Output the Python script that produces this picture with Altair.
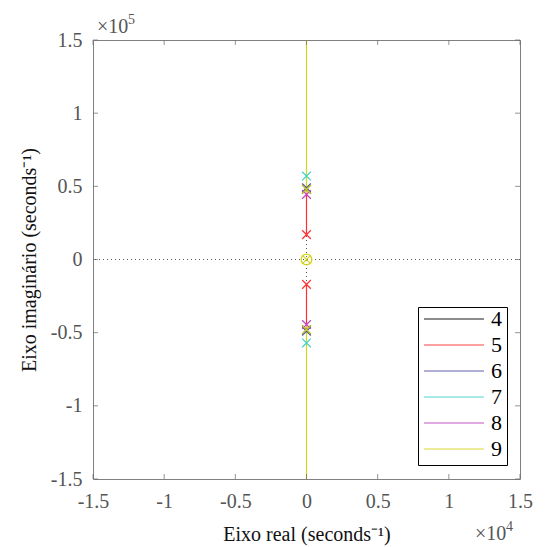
import altair as alt
import pandas as pd

# ---- data (real axis in units of 1e4, imaginary axis in units of 1e5) ----
series = ["4", "5", "6", "7", "8", "9"]
colors = ["#000000", "#ff3030", "#5050a8", "#40d0d0", "#c040c0", "#d4d41e"]

# visible root-locus branches along the imaginary axis (real part 0)
branch_series = ["5", "5", "9", "9"]
branch_real = [0, 0, 0, 0]
branch_start = [0.17, -0.17, 0.445, -0.445]
branch_end = [0.48, -0.48, 1.5, -1.5]

# poles (x markers)
pole_series = ["4", "4", "5", "5", "6", "6", "7", "7", "8", "8", "9", "9", "9"]
pole_real = [0, 0, 0, 0, 0, 0, 0, 0, 0, 0, 0, 0, 0]
pole_imag = [0.48, -0.48, 0.17, -0.17, 0.49, -0.49, 0.57, -0.57, 0.445, -0.445, 0.48, -0.48, 0.0]

# zeros (o markers)
zero_series = ["9"]
zero_real = [0]
zero_imag = [0.0]

ticks = [-1.5, -1, -0.5, 0, 0.5, 1, 1.5]

branches = pd.DataFrame({"s": branch_series, "x": branch_real, "y": branch_start, "y2": branch_end})
poles = pd.DataFrame({"s": pole_series, "x": pole_real, "y": pole_imag})
zeros = pd.DataFrame({"s": zero_series, "x": zero_real, "y": zero_imag})
tickdf = pd.DataFrame({"t": ticks})
origin = pd.DataFrame({"v": [0]})

W, H = 427, 439
FONT = "Liberation Serif"
LBL = "datum.value < 0 ? '-' + format(-datum.value, '~g') : format(datum.value, '~g')"
GRAY = "#555555"

xs = alt.Scale(domain=[-1.5, 1.5], nice=False, zero=False)
ys = alt.Scale(domain=[-1.5, 1.5], nice=False, zero=False)
cs = alt.Scale(domain=series, range=colors)

xaxis = alt.Axis(values=ticks, title="Eixo real (seconds⁻¹)", grid=False, domain=False, ticks=False,
                 labelExpr=LBL,
                 labelFont=FONT, labelFontSize=20, labelColor=GRAY, labelPadding=12,
                 titleFont=FONT, titleFontSize=20, titleFontWeight="normal", titleColor="#111111",
                 titlePadding=13, labelFlush=False)
yaxis = alt.Axis(values=ticks, title="Eixo imaginário (seconds⁻¹)", grid=False, domain=False, ticks=False,
                 labelExpr=LBL,
                 labelFont=FONT, labelFontSize=20, labelColor=GRAY, labelPadding=11,
                 titleFont=FONT, titleFontSize=20, titleFontWeight="normal", titleColor="#111111",
                 titlePadding=11, labelFlush=False)

# dotted zero lines
hzero = alt.Chart(origin).mark_rule(color="#555555", strokeDash=[1, 3], strokeWidth=1).encode(
    y=alt.Y("v:Q", scale=ys, axis=yaxis))
vzero = alt.Chart(origin).mark_rule(color="#555555", strokeDash=[1, 3], strokeWidth=1).encode(
    x=alt.X("v:Q", scale=xs, axis=xaxis))

lines = alt.Chart(branches).mark_rule(strokeWidth=1.2).encode(
    x=alt.X("x:Q", scale=xs, axis=xaxis),
    y=alt.Y("y:Q", scale=ys, axis=yaxis),
    y2="y2:Q",
    color=alt.Color("s:N", scale=cs, sort=series, legend=alt.Legend(
        title=None, orient="none", legendX=325, legendY=267,
        symbolType="stroke", symbolSize=3600, symbolStrokeWidth=1.5, clipHeight=14,
        labelFont=FONT, labelFontSize=22, labelColor="#000000", labelOffset=6,
        strokeColor="#000000", fillColor="#ffffff", padding=5, rowPadding=4,
        symbolOpacity=0.6)),
)

xpath = "M-1,-1L1,1M-1,1L1,-1"
polemk = alt.Chart(poles).mark_point(shape=xpath, size=75, filled=False, strokeWidth=1.2, opacity=1).encode(
    x=alt.X("x:Q", scale=xs), y=alt.Y("y:Q", scale=ys),
    color=alt.Color("s:N", scale=cs, legend=None))
zeromk = alt.Chart(zeros).mark_point(shape="circle", size=115, filled=False, strokeWidth=1.3, opacity=1).encode(
    x=alt.X("x:Q", scale=xs), y=alt.Y("y:Q", scale=ys),
    color=alt.Color("s:N", scale=cs, legend=None))

# inward tick marks on all four sides
tb = alt.Chart(tickdf).mark_tick(color="#666666", size=5, thickness=1).encode(
    x=alt.X("t:Q", scale=xs), y=alt.value(H - 2.5))
tt = alt.Chart(tickdf).mark_tick(color="#666666", size=5, thickness=1).encode(
    x=alt.X("t:Q", scale=xs), y=alt.value(2.5))
tl = alt.Chart(tickdf).mark_tick(color="#666666", size=5, thickness=1).encode(
    y=alt.Y("t:Q", scale=ys), x=alt.value(2.5))
tr = alt.Chart(tickdf).mark_tick(color="#666666", size=5, thickness=1).encode(
    y=alt.Y("t:Q", scale=ys), x=alt.value(W - 2.5))

def txt(s, size, x, y):
    return alt.Chart(origin).mark_text(text=s, font=FONT, fontSize=size, color=GRAY,
                                       align="left", baseline="alphabetic").encode(
        x=alt.value(x), y=alt.value(y))

exp5a = txt("×10", 20, 4, -7)
exp5b = txt("5", 14, 35, -16)
exp4a = txt("×10", 20, 382, H + 61)
exp4b = txt("4", 14, 413, H + 52)

chart = alt.layer(hzero, vzero, lines, polemk, zeromk, tb, tt, tl, tr,
                  exp5a, exp5b, exp4a, exp4b).properties(
    width=W, height=H,
    autosize=alt.AutoSizeParams(type="none"),
    padding={"left": 93, "top": 40, "right": 26, "bottom": 68},
    background="white",
).configure(font=FONT).configure_view(stroke="#808080", strokeWidth=1).configure_axis(
    labelFont=FONT, titleFont=FONT).configure_legend(labelFont=FONT)

chart.save("out.html", embed_options={"renderer": "svg", "actions": False})
